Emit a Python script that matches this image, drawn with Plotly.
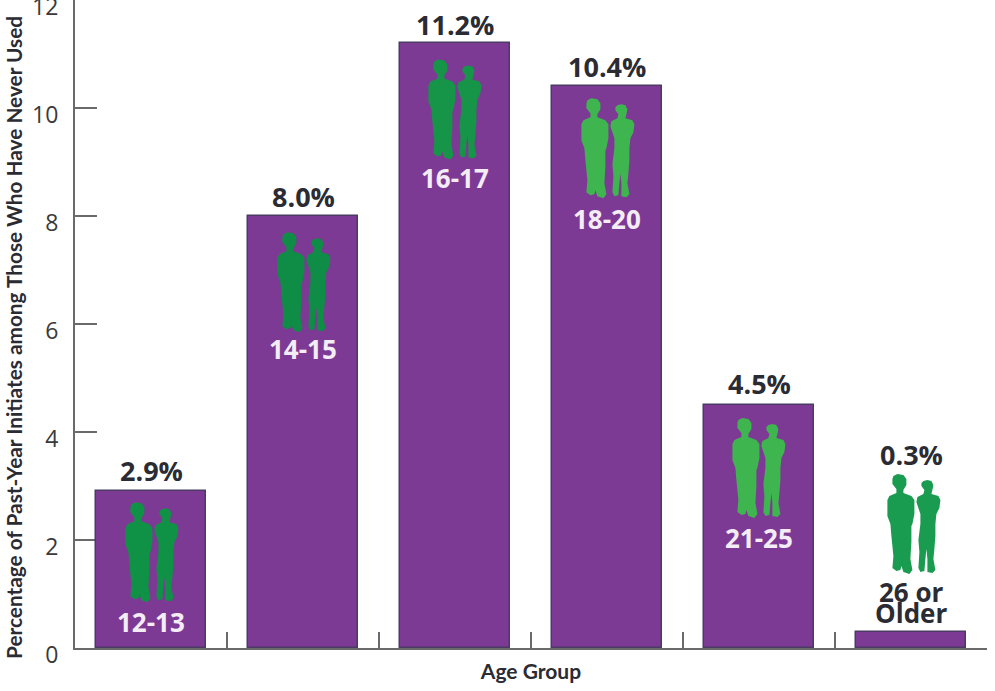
import plotly.graph_objects as go

age_groups = ["12-13", "14-15", "16-17", "18-20", "21-25", "26 or<br>Older"]
initiates = [2.9, 8.0, 11.2, 10.4, 4.5, 0.3]
y_ticks = [0, 2, 4, 6, 8, 10, 12]

PURPLE = "#7d3a94"
OUTLINE = "#4b3a63"
AXIS = "#6a6a6a"
TEXT = "#2b2b33"
TEXT_FONT = "Open Sans"
TITLE_FONT = "Lato"

# pixel scale of the plot area, used to place the decorations around the bars
PX_X = 152
PX_Y = 54

# people icons, in pixels from the top centre of the icon
person_left = [(-21, 2), (-17, 0), (-11, 1), (-8, 5), (-8, 11), (-11, 16), (-11, 19), (-3, 22), (0, 26),
               (0, 40), (-2, 50), (-3, 52), (-3, 68), (-4, 85), (-2, 96), (-5, 100), (-11, 98),
               (-13, 92), (-14, 96), (-18, 97), (-22, 94), (-21, 82), (-23, 62), (-24, 50),
               (-27, 42), (-27, 26), (-25, 22), (-18, 19), (-18, 15), (-22, 10), (-22, 5)]
person_right = [(9, 7), (13, 6), (17, 7), (19, 11), (18, 16), (17, 20), (24, 22), (26, 26), (25, 34),
                (22, 40), (21, 50), (21, 62), (20, 75), (19, 85), (21, 96), (18, 99), (13, 98),
                (13, 85), (12, 75), (11, 85), (10, 97), (6, 98), (4, 94), (5, 78), (4, 66),
                (6, 50), (6, 40), (2, 28), (3, 23), (9, 20), (10, 16), (7, 12), (7, 9)]
icon_tops = [2.70, 7.70, 10.90, 10.18, 4.26, 3.22]
icon_shift = [1, 1, 0, 1, 0, 3]
icon_colors = ["#0f9146", "#0f8c45", "#169447", "#3fb54f", "#3fb54f", "#1a9c50"]

# centre of each in-bar label line, in y units
label_y = [0.48, 5.54, 8.70, 7.94, 2.03, 1.04]
label_colors = ["#f4ecf6", "#f4ecf6", "#f4ecf6", "#f4ecf6", "#f4ecf6", TEXT]
# centre of each value label, in y units
value_y = [3.28, 8.37, 11.55, 10.77, 4.90, 3.58]

x_pos = list(range(len(age_groups)))


def person_path(outline, center, top):
    pts = [f"{center + dx / PX_X:.4f},{top - dy / PX_Y:.4f}" for dx, dy in outline]
    return "M" + "L".join(pts) + "Z"


fig = go.Figure()

fig.add_trace(go.Bar(
    x=x_pos,
    y=initiates,
    width=110 / PX_X,
    marker=dict(color=PURPLE, line=dict(color=OUTLINE, width=1.5)),
    hoverinfo="skip",
))

for i, (top, shift, color) in enumerate(zip(icon_tops, icon_shift, icon_colors)):
    for outline in (person_left, person_right):
        fig.add_shape(type="path", path=person_path(outline, i + shift / PX_X, top), xref="x", yref="y",
                      fillcolor=color, line=dict(width=0), layer="above")

for i, (value, y) in enumerate(zip(initiates, value_y)):
    fig.add_annotation(x=i, y=y, text=f"{value:.1f}%", showarrow=False, xanchor="center", yanchor="middle",
                       font=dict(family=TEXT_FONT, size=27, color=TEXT, weight="bold"))

for i, (label, y, color) in enumerate(zip(age_groups, label_y, label_colors)):
    lines = label.split("<br>")
    # the two-line label is set much tighter than a normal line break
    for j, line in enumerate(lines):
        fig.add_annotation(x=i, y=y - j * 21 / PX_Y, text=line, showarrow=False, xanchor="center", yanchor="middle",
                           font=dict(family=TEXT_FONT, size=26, color=color, weight="bold"))

# y title sits lower than the plot centre, so it is an annotation and not the axis title
fig.add_annotation(
    xref="paper", yref="paper", x=-0.0669, y=0.48, textangle=-90, showarrow=False,
    xanchor="center", yanchor="middle",
    text="<b>Percentage of Past-Year Initiates among Those Who Have Never Used</b>",
    font=dict(family=TITLE_FONT, size=20.8, color=TEXT),
)

fig.update_layout(
    width=995,
    height=691,
    margin=dict(l=75, r=8, t=0, b=43, autoexpand=False),
    paper_bgcolor="white",
    plot_bgcolor="white",
    showlegend=False,
    bargap=0,
    font=dict(family=TEXT_FONT, color=TEXT),
)

fig.update_xaxes(
    range=[-0.5026, 5.4974],
    tickvals=[i + 0.5 for i in x_pos],
    showticklabels=False,
    ticks="inside",
    ticklen=16,
    tickwidth=2,
    tickcolor=AXIS,
    showgrid=False,
    zeroline=False,
    showline=True,
    linecolor=AXIS,
    linewidth=2,
    title=dict(text="<b>Age Group</b>", font=dict(family=TITLE_FONT, size=21, color=TEXT), standoff=15),
)

fig.update_yaxes(
    range=[0, 12],
    tickvals=y_ticks,
    ticks="inside",
    ticklen=22,
    tickwidth=2,
    tickcolor=AXIS,
    tickfont=dict(family=TEXT_FONT, size=23, color="#3a3a3a"),
    ticklabeloverflow="allow",
    ticklabelstandoff=10,
    ticklabelshift=7,
    showgrid=False,
    zeroline=False,
    showline=True,
    linecolor=AXIS,
    linewidth=2,
    layer="below traces",
)

fig.write_html("out.html", config={"displayModeBar": False}, post_script="document.body.style.margin = '0';")
